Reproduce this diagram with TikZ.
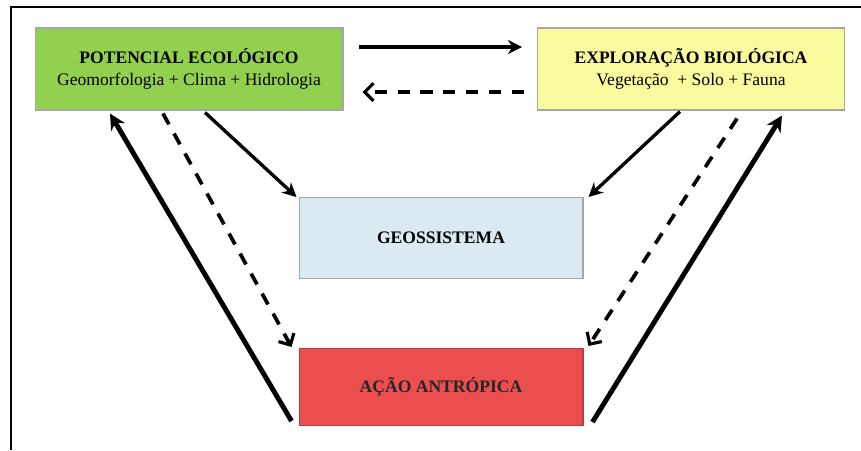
\documentclass[tikz,border=0pt]{standalone}
\usepackage{fontspec}
\setmainfont{Liberation Serif}
\usetikzlibrary{calc,arrows.meta}
\definecolor{verde}{RGB}{146,208,80}
\definecolor{amarelo}{RGB}{250,250,158}
\definecolor{azul}{RGB}{218,234,240}
\definecolor{vermelho}{RGB}{234,78,78}
\tikzset{
  caixa/.style={draw=black!35,line width=0.6pt,inner sep=0pt,align=center,
    font=\fontsize{10}{12.5}\selectfont},
  fino/.style={line width=1.9pt,-{Stealth[length=8pt,width=8pt]}},
  grosso/.style={line width=2.8pt,-{Stealth[length=9pt,width=9pt]}},
  tracejado/.style={line width=2.1pt,dash pattern=on 7pt off 6pt,
    -{Straight Barb[length=5pt,width=10pt,line width=1.8pt]}}
}
\begin{document}
\begin{tikzpicture}[x=0.02cm,y=-0.02cm]
\useasboundingbox (0,0) rectangle (861,450);
\draw [line width=1.1pt] (11,450) -- (11,7) -- (861,7);
\node (pot) [caixa,fill=verde,minimum width=6.16cm,minimum height=1.64cm] at (189,69)
  {\textbf{POTENCIAL ECOLÓGICO}\\Geomorfologia + Clima + Hidrologia};
\node (exp) [caixa,fill=amarelo,minimum width=6.14cm,minimum height=1.64cm] at (691,69)
  {\textbf{EXPLORAÇÃO BIOLÓGICA}\\Vegetação \ + Solo + Fauna};
\node (geo) [caixa,fill=azul,minimum width=5.68cm,minimum height=1.62cm] at (441,238)
  {\textbf{GEOSSISTEMA}};
\node (acao) [caixa,fill=vermelho,draw=vermelho!80!black,minimum width=5.68cm,minimum height=1.54cm] at (441,387)
  {\textcolor{black!85}{\textbf{AÇÃO ANTRÓPICA}}};
% horizontais
\draw [fino] ($(pot.east)+(15,-22)$) -- ($(exp.west)+(-15,-22)$);
\draw [tracejado] ($(exp.west)+(-13,23)$) -- ($(pot.east)+(19,23)$);
% potencial
\draw [fino] ($(pot.south)+(16,2)$) -- ($(geo.north west)+(-2,0)$);
\draw [tracejado] ($(pot.south)+(-26,3)$) -- ($(acao.north west)+(-7,-1)$);
\draw [grosso] ($(acao.south west)+(-7,-5)$) -- ($(pot.south)+(-79,3)$);
% exploracao
\draw [fino] ($(exp.south)+(-11,1)$) -- ($(geo.north east)+(5,0)$);
\draw [tracejado] ($(exp.south)+(46,8)$) -- ($(acao.north east)+(5,-2)$);
\draw [grosso] ($(acao.south east)+(9,-4)$) -- ($(exp.south)+(91,5)$);
\end{tikzpicture}
\end{document}
